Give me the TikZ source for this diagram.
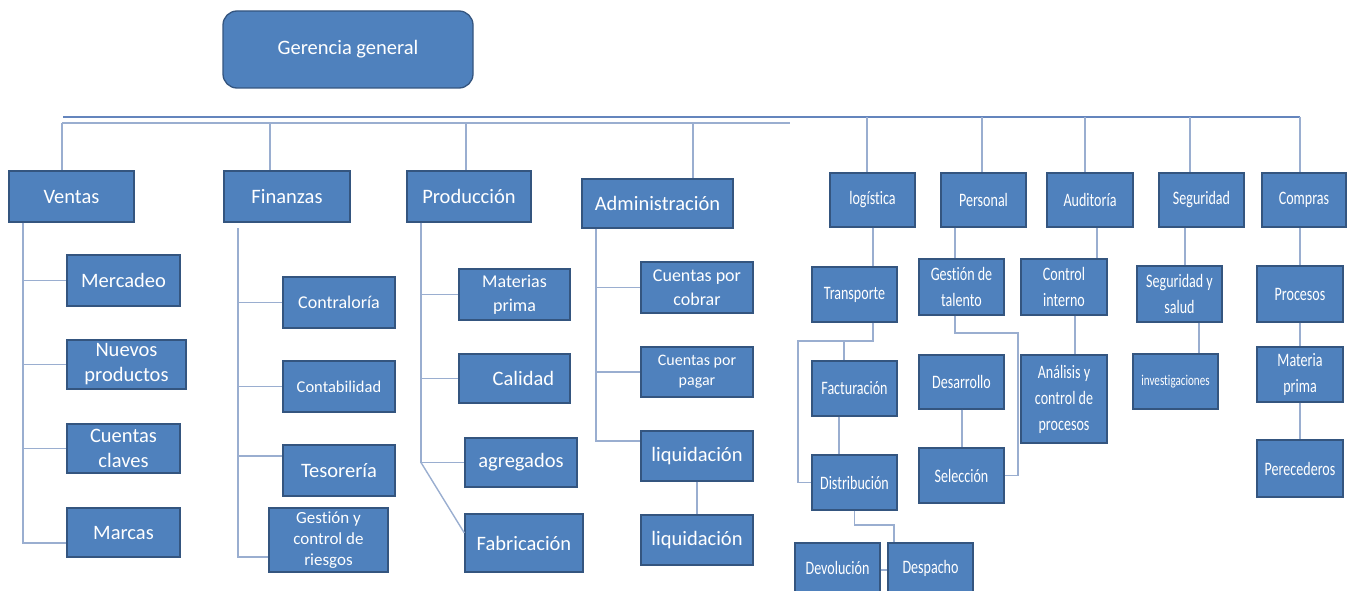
\documentclass[tikz,border=0pt]{standalone}
\usepackage{fontspec}
\setmainfont{Carlito}[Ligatures=NoCommon]
\newfontfamily\narrowfam{Carlito}[FakeStretch=0.74,Ligatures=NoCommon]
\newcommand\fsz[2]{\fontsize{#1}{#2}\selectfont}
\definecolor{boxfill}{HTML}{4F81BD}
\definecolor{boxline}{HTML}{34557F}
\definecolor{linkc}{HTML}{9AAED0}
\definecolor{busc}{HTML}{6485BD}
\begin{document}
\begin{tikzpicture}[x=1pt,y=-1pt,
  box/.style={draw=boxline, fill=boxfill, line width=1.3pt, text=white,
    align=center, inner sep=0pt, font=\fsz{20.5}{25}},
  rbox/.style={box, font=\narrowfam\fsz{19}{26}},
  sz/.style 2 args={minimum width=#1pt, minimum height=#2pt},
  link/.style={draw=linkc, line width=1.4pt},
  bus/.style={draw=busc, line width=2.4pt}]
\useasboundingbox (0,0) rectangle (1354,591);

% ---- top level ----
\node[box, sz={250}{77}, rounded corners=14pt] (ger) at (348,49.5) {Gerencia general};

% ---- left departments ----
\node[box, sz={125}{51}] (ven) at (71.5,196.5) {Ventas};
\node[box, sz={126}{51}] (fin) at (287,196.5) {Finanzas};
\node[box, sz={124}{51}] (pro) at (469,196.5) {Producción};
\node[box, sz={151}{49}] (adm) at (657.5,203.5) {Administración};

\node[box, sz={113}{51}] (mer) at (123.5,280.5) {Mercadeo};
\node[box, sz={119}{49}] (nue) at (126.5,364.5) {Nuevos\\productos};
\node[box, sz={113}{49}] (cue) at (123.5,448.5) {Cuentas\\claves};
\node[box, sz={113}{49}] (mar) at (123.5,532.5) {Marcas};

\node[box, sz={112}{51}, font=\fsz{18}{22}] (con) at (339,302.5) {Contraloría};
\node[box, sz={112}{51}, font=\fsz{16.5}{20}] (cnt) at (339,386.5) {Contabilidad};
\node[box, sz={112}{51}] (tes) at (339,470.5) {Tesorería};
\node[box, sz={119}{64}, font=\fsz{17}{21}] (ges) at (328.5,540) {Gestión y\\control de\\riesgos};

\node[box, sz={111}{51}, font=\fsz{18}{24}] (mat) at (514.5,294.5) {Materias\\prima};
\node[box, sz={111}{49}] (cal) at (514.5,378.5) {\hspace*{18pt}Calidad};
\node[box, sz={112}{49}] (agr) at (521,462.5) {agregados};
\node[box, sz={118}{58}] (fab) at (524,543) {Fabricación};

\node[box, sz={112}{51}, font=\fsz{18}{24}] (cco) at (697,287.5) {Cuentas por\\cobrar};
\node[box, sz={112}{50}, font=\fsz{16}{20}] (cpa) at (697,372) {Cuentas por\\pagar};
\node[box, sz={112}{50}] (lq1) at (697,456) {liquidación};
\node[box, sz={112}{50}] (lq2) at (697,540) {liquidación};

% ---- right departments ----
\node[rbox, sz={85}{54}] (log) at (872.5,200) {logística};
\node[rbox, sz={85}{54}] (per) at (983.5,200) {Personal};
\node[rbox, sz={86}{54}] (aud) at (1090,200) {Auditoría};
\node[rbox, sz={85}{54}] (seg) at (1201.5,200) {Seguridad};
\node[rbox, sz={84}{54}] (com) at (1304,200) {Compras};

\node[rbox, sz={85}{55}] (tra) at (854.5,294.5) {Transporte};
\node[rbox, sz={85}{55}] (fac) at (854.5,388.5) {Facturación};
\node[rbox, sz={85}{55}] (dis) at (854.5,482.5) {Distribución};
\node[rbox, sz={85}{50}] (dev) at (837.5,568) {Devolución};
\node[rbox, sz={85}{50}] (des) at (930.5,568) {Despacho};

\node[rbox, sz={85}{56}] (tal) at (961.5,287) {Gestión de\\talento};
\node[rbox, sz={85}{54}] (dsr) at (961.5,382) {Desarrollo};
\node[rbox, sz={85}{55}] (sel) at (961.5,475.5) {Selección};

\node[rbox, sz={86}{56}] (cin) at (1064,287) {Control\\interno};
\node[rbox, sz={86}{88}] (ana) at (1064,399) {Análisis y\\control de\\procesos};

\node[rbox, sz={85}{56}] (sys) at (1179.5,294) {Seguridad y\\salud};
\node[rbox, sz={85}{55}, font=\narrowfam\fsz{15}{18}] (inv) at (1175.5,381.5) {investigaciones};

\node[rbox, sz={86}{56}] (prc) at (1300,294) {Procesos};
\node[rbox, sz={86}{55}] (mtp) at (1300,374.5) {Materia\\prima};
\node[rbox, sz={86}{57}] (prd) at (1300,468.5) {Perecederos};

% ---- buses ----
\coordinate (busA) at (63,117);  \coordinate (busB) at (1300,117);
\coordinate (thA) at (62,123);   \coordinate (thB) at (790,123);
\draw[bus] (busA) -- (busB);
\draw[link] (thA) -- (thB);

\coordinate (dV) at (62,123);  \coordinate (dF) at (270,123);
\coordinate (dP) at (466,123); \coordinate (dA) at (693,123);
\draw[link] (dV) -- (dV |- ven.north);
\draw[link] (dF) -- (dF |- fin.north);
\draw[link] (dP) -- (dP |- pro.north);
\draw[link] (dA) -- (dA |- adm.north);

\coordinate (dL) at (867,117);  \coordinate (dPe) at (982,117);
\coordinate (dAu) at (1085,117); \coordinate (dS) at (1190,117);
\coordinate (dC) at (1300,117);
\draw[link] (dL) -- (dL |- log.north);
\draw[link] (dPe) -- (dPe |- per.north);
\draw[link] (dAu) -- (dAu |- aud.north);
\draw[link] (dS) -- (dS |- seg.north);
\draw[link] (dC) -- (dC |- com.north);

% ---- Ventas ----
\coordinate (tV) at (23,0);
\draw[link] (tV |- ven.south) |- ([yshift=-10.5pt]mar.west);
\foreach \n in {mer,nue,cue} \draw[link] (tV |- \n.west) -- (\n.west);

% ---- Finanzas ----
\coordinate (tF) at (238,228);
\path ([yshift=14.5pt]tes.west) coordinate (tesIn);
\draw[link] (tF) |- ([yshift=-17pt]ges.west);
\draw[link] (tF |- con.west) -- (con.west);
\draw[link] (tF |- cnt.west) -- (cnt.west);
\draw[link] (tF |- tesIn) -- (tesIn);

% ---- Produccion ----
\coordinate (tP) at (421,0);
\draw[link] (tP |- pro.south) |- (agr.west);
\draw[link] (tP |- mat.west) -- (mat.west);
\draw[link] (tP |- cal.west) -- (cal.west);
\draw[link] (tP |- agr.west) -- ([yshift=10pt]fab.west);

% ---- Administracion ----
\coordinate (tA) at (596,0);
\path ([yshift=15pt]lq1.west) coordinate (lqIn);
\draw[link] (tA |- adm.south) |- (lqIn);
\draw[link] (tA |- cco.west) -- (cco.west);
\draw[link] (tA |- cpa.west) -- (cpa.west);
\draw[link] (lq1.south) -- (lq2.north);

% ---- logistica ----
\coordinate (xL) at (873,0);
\coordinate (tLoop) at (798,341);
\coordinate (xF) at (844,341);
\coordinate (xFD) at (839,0);
\coordinate (dBend) at (894,525);
\draw[link] (xL |- log.south) -- (xL |- tra.north);
\draw[link] (xL |- tra.south) |- (tLoop) |- (dis.west);
\draw[link] (xF) -- (xF |- fac.north);
\draw[link] (xFD |- fac.south) -- (xFD |- dis.north);
\draw[link] (dis.south) |- (dBend) -- (dBend |- des.north);
\draw[link] ([yshift=-2pt]dev.east) -- ([yshift=-2pt]des.west);

% ---- Personal ----
\coordinate (xP) at (955,0);
\coordinate (pBend) at (1018,333);
\coordinate (xD) at (962,0);
\draw[link] (xP |- per.south) -- (xP |- tal.north);
\draw[link] (xP |- tal.south) |- (pBend) |- (sel.east);
\draw[link] (xD |- dsr.south) -- (xD |- sel.north);

% ---- Auditoria ----
\coordinate (xAu) at (1097,0);
\coordinate (xCi) at (1075,0);
\draw[link] (xAu |- aud.south) -- (xAu |- cin.north);
\draw[link] (xCi |- cin.south) -- (xCi |- ana.north);

% ---- Seguridad ----
\coordinate (xSe) at (1185,0);
\coordinate (xSy) at (1199,0);
\draw[link] (xSe |- seg.south) -- (xSe |- sys.north);
\draw[link] (xSy |- sys.south) -- (xSy |- inv.north);

% ---- Compras ----
\draw[link] (com.south -| prc.north) -- (prc.north);
\draw[link] (prc.south) -- (mtp.north);
\draw[link] (mtp.south) -- (prd.north);
\end{tikzpicture}
\end{document}
